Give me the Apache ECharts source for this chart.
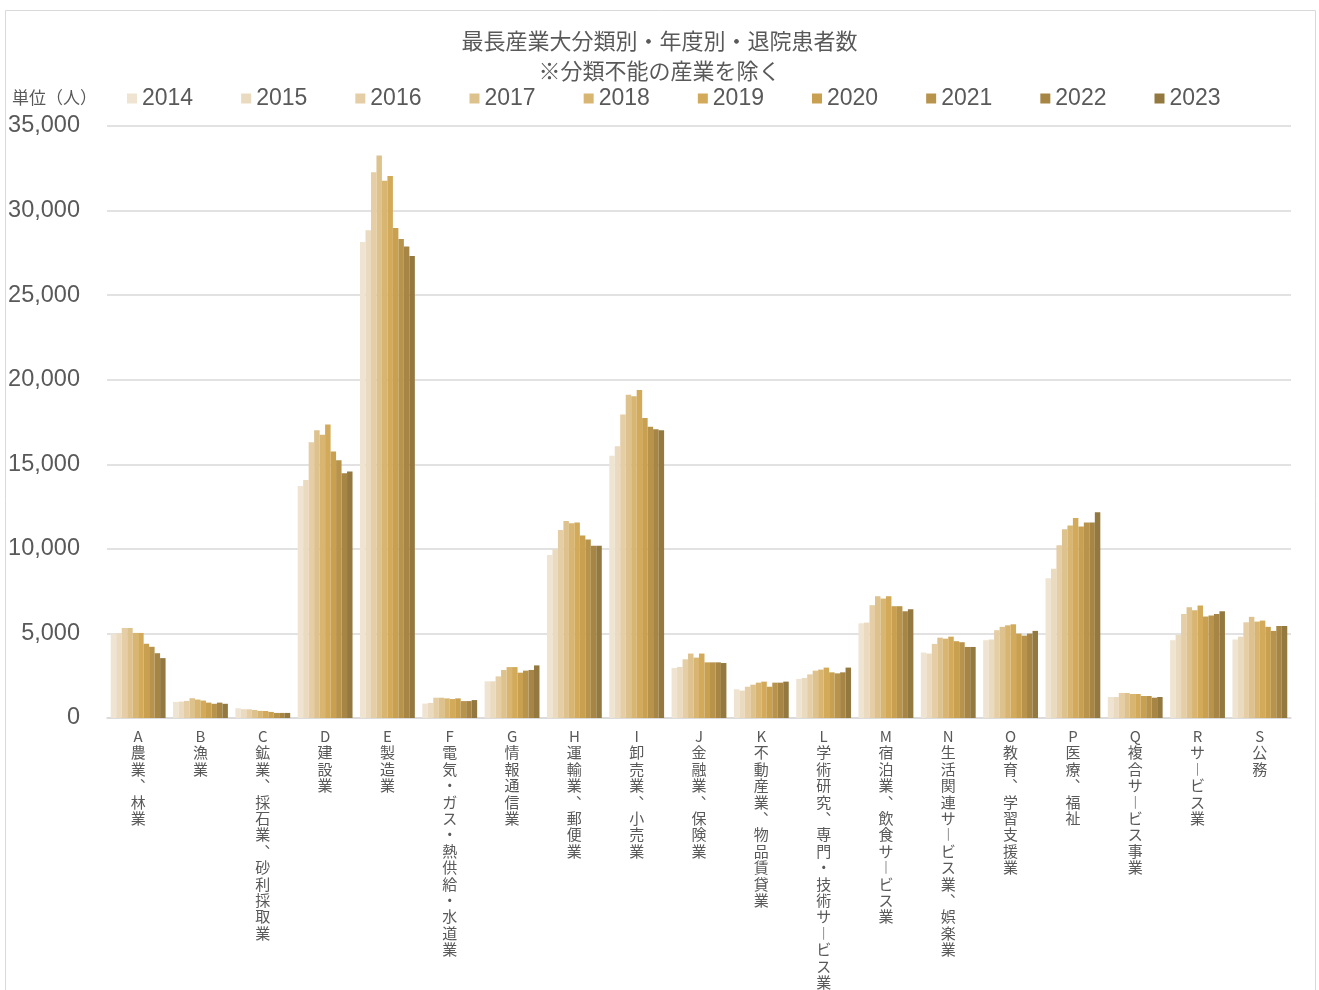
<!DOCTYPE html>
<html><head><meta charset="utf-8">
<script src="https://cdn.jsdelivr.net/npm/echarts@6/dist/echarts.min.js"></script>
<style>html,body{margin:0;padding:0;background:#fff}#c{width:1319px;height:990px}</style>
</head><body><div id="c"></div>
<script>
const titleText = '最長産業大分類別・年度別・退院患者数\n※分類不能の産業を除く';
const unitText = '単位（人）';
const categories = ['A農業、林業','B漁業','C鉱業、採石業、砂利採取業','D建設業','E製造業','F電気・ガス・熱供給・水道業','G情報通信業','H運輸業、郵便業','I卸売業、小売業','J金融業、保険業','K不動産業、物品賃貸業','L学術研究、専門・技術サービス業','M宿泊業、飲食サービス業','N生活関連サービス業、娯楽業','O教育、学習支援業','P医療、福祉','Q複合サービス事業','Rサービス業','S公務'];
const years = ['2014','2015','2016','2017','2018','2019','2020','2021','2022','2023'];
//            A     B     C    D      E      F     G     H      I      J     K     L     M     N     O     P      Q     R     S
const v2014 = [4960, 950, 575, 13720, 28140, 850, 2170, 9630, 15510, 2960, 1700, 2310, 5600, 3870, 4600, 8260, 1240, 4600, 4640];
const v2015 = [5020, 970, 520, 14070, 28830, 890, 2170, 9980, 16060, 3020, 1620, 2370, 5640, 3810, 4640, 8820, 1240, 4910, 4810];
const v2016 = [5320, 1010, 515, 16300, 32260, 1200, 2460, 11120, 17950, 3470, 1850, 2580, 6670, 4380, 5190, 10220, 1480, 6150, 5660];
const v2017 = [5320, 1170, 475, 17010, 33260, 1200, 2840, 11650, 19110, 3810, 1970, 2800, 7200, 4750, 5390, 11160, 1480, 6550, 5980];
const v2018 = [5030, 1090, 420, 16750, 31770, 1160, 3010, 11520, 19020, 3570, 2090, 2860, 7060, 4690, 5480, 11380, 1420, 6370, 5700];
const v2019 = [5030, 1030, 415, 17350, 32050, 1120, 3010, 11560, 19390, 3810, 2150, 2980, 7200, 4810, 5540, 11820, 1420, 6650, 5760];
const v2020 = [4390, 910, 360, 15750, 28970, 1160, 2680, 10790, 17740, 3290, 1850, 2700, 6610, 4540, 4990, 11320, 1300, 6000, 5390];
const v2021 = [4210, 840, 300, 15240, 28320, 1000, 2800, 10550, 17220, 3290, 2090, 2640, 6610, 4480, 4870, 11560, 1300, 6060, 5150];
const v2022 = [3830, 910, 300, 14470, 27870, 1000, 2840, 10180, 17070, 3290, 2090, 2700, 6310, 4200, 4990, 11560, 1200, 6150, 5440];
const v2023 = [3540, 840, 300, 14570, 27320, 1060, 3110, 10180, 17010, 3250, 2150, 2980, 6430, 4200, 5150, 12170, 1240, 6310, 5440];
const yMin = 0, yMax = 35000, yStep = 5000;

const values = [v2014, v2015, v2016, v2017, v2018, v2019, v2020, v2021, v2022, v2023];
const colors = ['#EFE4D1','#EADAC0','#E5CDA5','#DEC28E','#D8B571','#D2AA5A','#C8A050','#B8934B','#A68545','#93793F'];
const txt = '#595959';
const latin = '"Liberation Sans", Arial, "Noto Sans CJK JP", sans-serif';
const cjk = '"Noto Sans CJK JP", "Liberation Sans", sans-serif';

const chart = echarts.init(document.getElementById('c'), null, {renderer: 'canvas'});
chart.setOption({
  backgroundColor: '#fff',
  animation: false,
  title: {
    text: titleText, left: 'center', top: 26, padding: 0,
    textStyle: {fontFamily: cjk, fontSize: 22, fontWeight: 'normal', color: txt, lineHeight: 30}
  },
  graphic: [
    {type: 'rect', shape: {x: 5.5, y: 10.5, width: 1310, height: 1000}, style: {fill: 'none', stroke: '#D9D9D9', lineWidth: 1}, silent: true, z: -1},
    {type: 'text', left: 12, top: 89, style: {text: unitText, fontFamily: cjk, fontSize: 17, fill: txt}}
  ],
  legend: {
    data: years, left: 127, top: 87, padding: 0, itemGap: 48, itemWidth: 10, itemHeight: 10,
    icon: 'rect',
    textStyle: {fontFamily: latin, fontSize: 23, color: txt}
  },
  grid: {left: 107, right: 28, top: 126, bottom: 272, containLabel: false, outerBoundsMode: 'none'},
  xAxis: {
    type: 'category', data: categories,
    axisLine: {lineStyle: {color: '#D9D9D9', width: 1.5}},
    axisTick: {show: false},
    axisLabel: {
      interval: 0, margin: 10, fontFamily: cjk, fontSize: 15, lineHeight: 16.4, color: txt,
      formatter: function (s) {
        return s.replace(/、/g, '︑').replace(/ー/g, '︱').split('').join('\n');
      }
    }
  },
  yAxis: {
    type: 'value', min: yMin, max: yMax, interval: yStep,
    axisLine: {show: false}, axisTick: {show: false},
    splitLine: {lineStyle: {color: '#D9D9D9', width: 1.5}},
    axisLabel: {
      margin: 27, fontFamily: latin, fontSize: 23.5, color: txt,
      formatter: function (v) { return v.toLocaleString('en-US'); }
    }
  },
  series: years.map(function (y, i) {
    return {
      name: y, type: 'bar', data: values[i], barGap: '0%', barCategoryGap: '12%',
      itemStyle: {color: colors[i]}
    };
  })
});
</script>
</body></html>
